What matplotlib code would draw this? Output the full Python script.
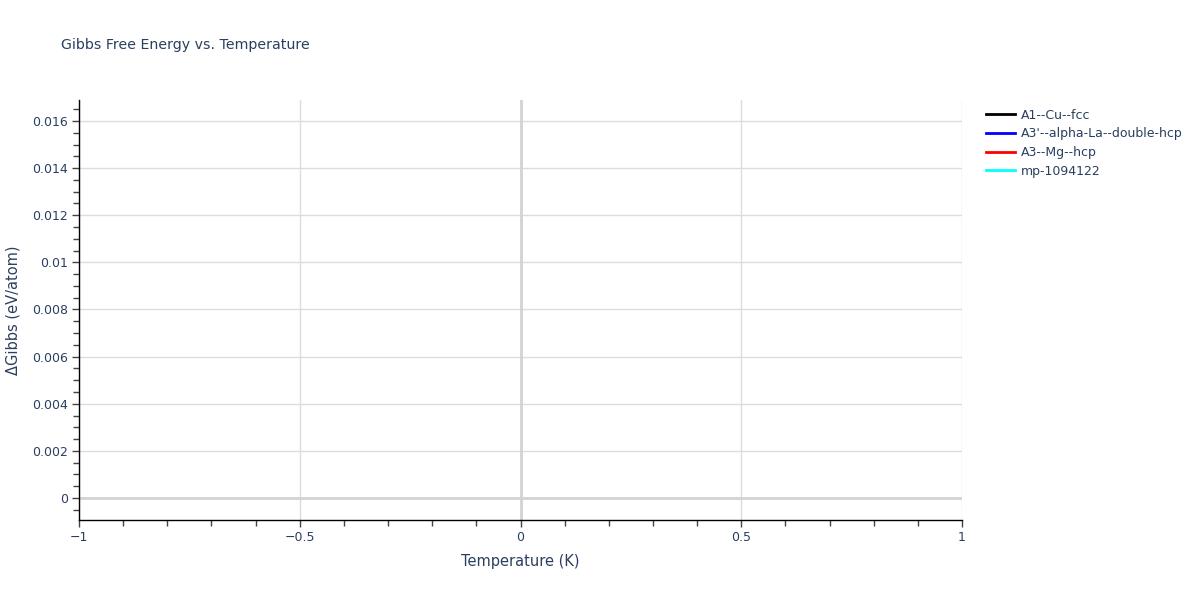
import matplotlib
matplotlib.use('Agg')
import matplotlib.pyplot as plt
from matplotlib.ticker import MultipleLocator

# each phase only has a single point at T=0, so no line shows up
phases = ['A1--Cu--fcc', "A3'--alpha-La--double-hcp", 'A3--Mg--hcp', 'mp-1094122']
colors = ['black', 'blue', 'red', 'cyan']
temperature = [0]
dgibbs = {
    'A1--Cu--fcc': [0],
    "A3'--alpha-La--double-hcp": [0],
    'A3--Mg--hcp': [0],
    'mp-1094122': [0],
}

txt = '#2a3f5f'
plt.rcParams['font.family'] = ['DejaVu Sans']

fig = plt.figure(figsize=(12, 6), dpi=100)
ax = fig.add_axes([79/1200, 1-520/600, (962-79)/1200, 420/600])

for name, c in zip(phases, colors):
    ax.plot(temperature, dgibbs[name], color=c, lw=2, label=name)

ax.set_xlim(-1, 1)
ax.set_ylim(-0.000934, 0.01689)

ax.xaxis.set_minor_locator(MultipleLocator(0.1))
ax.yaxis.set_minor_locator(MultipleLocator(0.0005))
ax.set_xticks([-1, -0.5, 0, 0.5, 1])
ax.set_xticklabels(['\u22121', '\u22120.5', '0', '0.5', '1'])
yt = [0, 0.002, 0.004, 0.006, 0.008, 0.01, 0.012, 0.014, 0.016]
ax.set_yticks(yt)
ax.set_yticklabels(['0', '0.002', '0.004', '0.006', '0.008', '0.01', '0.012', '0.014', '0.016'])

ax.grid(True, which='major', color='#dcdcdc', lw=1)
ax.set_axisbelow(True)
ax.axhline(0, color='#d3d3d3', lw=2, zorder=1)
ax.axvline(0, color='#d3d3d3', lw=2, zorder=1)

for s in ['top', 'right']:
    ax.spines[s].set_visible(False)
for s in ['left', 'bottom']:
    ax.spines[s].set_color('black')
    ax.spines[s].set_linewidth(1)

ax.tick_params(which='major', length=5, width=1, color='#444444', labelcolor=txt, labelsize=9, pad=3)
ax.tick_params(which='minor', length=4, width=1, color='#444444')

ax.set_xlabel('Temperature (K)', color=txt, fontsize=10.5, labelpad=7)
ax.set_ylabel('\u0394Gibbs (eV/atom)', color=txt, fontsize=10.5, labelpad=8)
fig.text(61/1200, 1-45/600, 'Gibbs Free Energy vs. Temperature', color=txt, fontsize=10.2, va='center')

leg = ax.legend(loc='upper left', bbox_to_anchor=(1.017, 1.0), frameon=False, fontsize=9,
                handlelength=2.3, labelspacing=0.45, handletextpad=0.5, borderaxespad=0.3)
for t in leg.get_texts():
    t.set_color(txt)

fig.savefig('out.png', dpi=100)
